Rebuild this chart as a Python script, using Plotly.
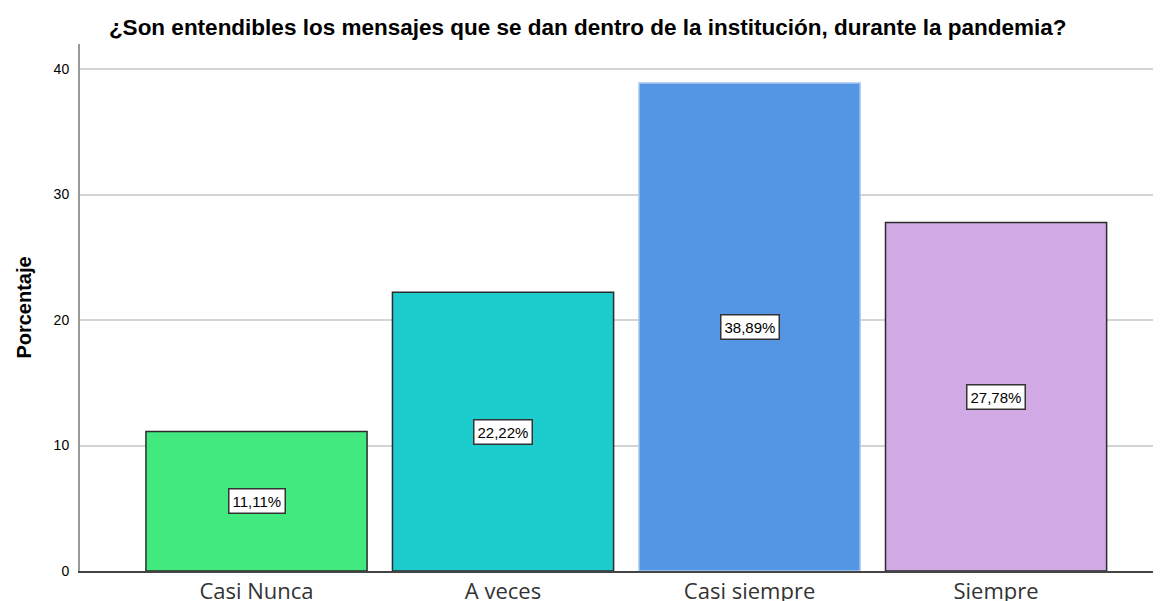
import plotly.graph_objects as go

categories = ["Casi Nunca", "A veces", "Casi siempre", "Siempre"]
values = [11.11, 22.22, 38.89, 27.78]
labels = ["11,11%", "22,22%", "38,89%", "27,78%"]
colors = ["#42e97e", "#1dcdcd", "#5596e4", "#d1aae5"]
line_colors = ["#2b2b2b", "#2b2b2b", "#a8c8f0", "#2b2b2b"]

fig = go.Figure()
fig.add_trace(go.Bar(
    x=list(range(len(categories))), y=values,
    width=0.897,
    marker=dict(color=colors, line=dict(color=line_colors, width=1.5)),
    hoverinfo="skip",
))

for i, (v, lab) in enumerate(zip(values, labels)):
    fig.add_annotation(
        x=i, y=v / 2, text=lab, showarrow=False,
        font=dict(family="Liberation Sans, Arial", size=15, color="#000"),
        bgcolor="white", bordercolor="#333", borderwidth=1.5, borderpad=3,
    )

fig.update_layout(
    width=1170, height=601,
    margin=dict(l=72, r=0, t=36, b=38),
    paper_bgcolor="white", plot_bgcolor="white",
    showlegend=False,
    title=dict(
        text="<b>¿Son entendibles los mensajes que se dan dentro de la institución, durante la pandemia?</b>",
        x=0.4955, xanchor="center", y=0.968, yanchor="middle",
        font=dict(family="Liberation Sans, Arial", size=22.5, color="#000"),
    ),
)
fig.update_xaxes(
    range=[-0.716, 3.738],
    tickmode="array", tickvals=list(range(len(categories))), ticktext=categories,
    tickfont=dict(family="Open Sans", size=22, color="#333"),
    showline=True, linecolor="#444", linewidth=1.5,
    showgrid=False, ticks="", zeroline=False,
)
fig.update_yaxes(
    range=[0, 42.0],
    tickvals=[0, 10, 20, 30, 40],
    tickfont=dict(family="Liberation Sans, Arial", size=14, color="#000"),
    ticklabelstandoff=6,
    showline=True, linecolor="#999", linewidth=2,
    showgrid=True, gridcolor="#d4d4d4", gridwidth=1.5,
    ticks="", zeroline=False,
    title=dict(text="<b>Porcentaje</b>", standoff=17,
               font=dict(family="Liberation Sans, Arial", size=20, color="#000")),
)

fig.write_html("out.html")
